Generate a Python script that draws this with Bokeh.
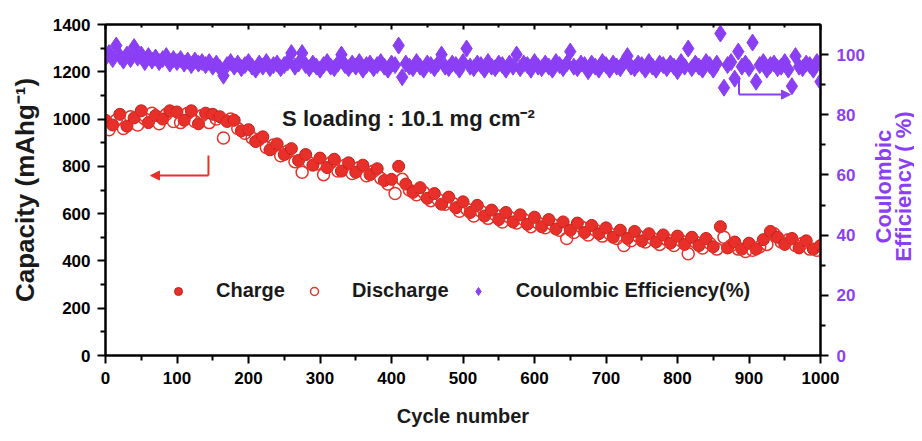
import math
from bokeh.plotting import figure
from bokeh.layouts import row
from bokeh.models import (Range1d, LinearAxis, Label, Arrow, NormalHead, Legend,
                          LegendItem, FixedTicker)
from bokeh.core.properties import value
from bokeh.embed import file_html
from bokeh.resources import INLINE

# ---------------- data ----------------
charge_cycles = list(range(0, 1001, 10))
charge = [
    995, 975, 1020, 970, 1005, 1035, 985, 1015, 1000, 1035,
    1030, 995, 1035, 980, 1025, 1020, 1010, 990, 995, 950,
    955, 905, 925, 870, 895, 850, 875, 825, 850, 805,
    835, 795, 830, 780, 815, 775, 805, 765, 790, 740,
    745, 800, 725, 690, 710, 665, 685, 640, 670, 625,
    650, 605, 635, 590, 615, 575, 605, 565, 595, 555,
    585, 545, 575, 535, 565, 530, 560, 520, 550, 515,
    540, 500, 530, 495, 525, 485, 515, 480, 510, 475,
    505, 470, 500, 465, 495, 460, 545, 455, 480, 450,
    475, 450, 490, 525, 500, 470, 495, 455, 485, 450,
    465,
]

discharge_cycles = list(range(5, 1000, 10))
discharge = [
    955, 995, 960, 1010, 975, 1000, 1025, 980, 1020, 990,
    985, 1025, 990, 1015, 985, 1000, 920, 1000, 960, 940,
    920, 915, 880, 890, 845, 865, 820, 775, 815, 810,
    765, 815, 780, 805, 770, 795, 760, 780, 750, 725,
    685, 745, 700, 680, 690, 655, 660, 640, 645, 610,
    620, 590, 610, 580, 595, 565, 585, 560, 575, 545,
    560, 540, 555, 530, 495, 520, 545, 510, 530, 505,
    515, 495, 465, 485, 505, 480, 495, 470, 490, 465,
    485, 430, 480, 455, 475, 450, 500, 465, 450, 440,
    445, 460, 470, 515, 480, 490, 465, 475, 450, 445,
]

ce_cycles = list(range(0, 1001, 5))
ce = [
    99.0, 100.5, 98.5, 103.0, 99.5, 98.0, 100.0, 98.5, 102.5, 99.0,
    100.0, 97.5, 99.5, 98.0, 99.0, 97.5, 98.5, 99.5, 97.0, 98.5,
    97.5, 98.5, 97.0, 98.0, 96.5, 98.0, 97.0, 97.5, 96.5, 97.5,
    96.0, 97.0, 95.5, 93.0, 96.5, 97.5, 96.0, 97.0, 95.5, 96.5,
    97.5, 96.0, 95.0, 97.0, 96.0, 97.5, 95.5, 96.5, 97.0, 95.5,
    96.5, 97.5, 100.5, 96.0, 97.0, 100.5, 96.5, 95.5, 97.0, 96.0,
    95.0, 96.5, 97.5, 96.0, 95.5, 97.0, 100.0, 96.5, 95.5, 97.0,
    96.0, 97.5, 95.0, 96.5, 97.0, 95.5, 96.5, 97.5, 96.0, 95.0,
    97.0, 96.5, 103.0, 92.5, 97.0, 96.0, 95.5, 97.5, 96.0, 95.0,
    97.0, 96.5, 95.5, 97.0, 100.0, 96.0, 95.5, 97.0, 96.5, 95.0,
    97.5, 102.0, 96.0, 95.5, 97.0, 96.5, 95.0, 97.5, 96.0, 95.5,
    97.0, 96.5, 95.0, 97.0, 96.0, 100.0, 95.5, 97.0, 96.5, 95.0,
    97.5, 96.0, 95.5, 97.0, 96.0, 95.0, 97.5, 96.5, 95.5, 97.0,
    101.0, 96.0, 95.5, 97.0, 96.5, 94.5, 97.0, 96.0, 95.0, 97.5,
    96.5, 95.0, 97.0, 96.0, 95.5, 97.5, 99.5, 96.0, 95.5, 97.0,
    96.5, 95.0, 97.5, 96.0, 95.0, 97.0, 96.5, 95.5, 97.0, 96.0,
    94.5, 97.5, 96.0, 102.0, 95.5, 97.0, 96.0, 95.0, 97.5, 96.5,
    95.0, 97.0, 107.0, 89.0, 96.5, 97.5, 92.0, 101.0, 96.0, 97.0,
    95.5, 104.0, 91.0, 96.5, 97.5, 95.0, 96.5, 97.0, 95.5, 96.0,
    97.5, 95.0, 89.5, 99.5, 96.0, 95.5, 97.0, 96.5, 95.0, 97.5,
    91.0,
]

left_ticks = [0, 200, 400, 600, 800, 1000, 1200, 1400]
left_minor = [100, 300, 500, 700, 900, 1100, 1300]
right_ticks = [0, 20, 40, 60, 80, 100]
right_minor = [10, 30, 50, 70, 90]
x_ticks = [0, 100, 200, 300, 400, 500, 600, 700, 800, 900, 1000]
x_minor = [50, 150, 250, 350, 450, 550, 650, 750, 850, 950]

# arrow annotations (data coordinates)
red_arrow_x = [144, 144, 63]
red_arrow_y = [846, 761, 761]
ce_arrow_x = [886, 886, 958]
ce_arrow_y = [92.7, 86.7, 86.7]

# right-hand axis title, two lines (reads bottom to top)
right_title_lines = ["Coulombic", "Efficiency ( %)"]

RED = "#E8302A"
RED_EDGE = "#C21F19"
PURPLE = "#8B3FF5"
FONT = "Liberation Sans"
TXT = "#1a1a1a"

W_MAIN, W_SIDE, H = 867, 47, 433

p = figure(width=W_MAIN, height=H, output_backend="svg", toolbar_location=None,
           x_range=Range1d(0, 1000), y_range=Range1d(0, 1400),
           min_border_left=105, min_border_right=44, min_border_top=24,
           min_border_bottom=78)
p.extra_y_ranges = {"ce": Range1d(0, 110)}
p.xgrid.visible = False
p.ygrid.visible = False
p.outline_line_color = "black"
p.outline_line_width = 2
p.background_fill_color = "white"
p.border_fill_color = "white"


def style(ax, color="black", size="17px"):
    ax.axis_line_width = 2
    ax.axis_line_color = "black"
    ax.major_tick_line_width = 2
    ax.minor_tick_line_width = 2
    ax.major_tick_line_color = "black"
    ax.minor_tick_line_color = "black"
    ax.major_tick_out = 8
    ax.major_tick_in = 0
    ax.minor_tick_out = 5
    ax.minor_tick_in = 0
    ax.major_label_text_font = FONT
    ax.major_label_text_font_style = "bold"
    ax.major_label_text_font_size = size
    ax.major_label_text_color = color
    ax.axis_label_text_font_style = "bold"
    ax.axis_label_text_font = FONT


xa = p.xaxis[0]
xa.ticker = FixedTicker(ticks=x_ticks, minor_ticks=x_minor)
style(xa)
xa.major_label_standoff = 8
xa.axis_label = "Cycle number"
xa.axis_label_text_font_size = "20px"
xa.axis_label_text_color = TXT
xa.axis_label_standoff = 18

ya = p.yaxis[0]
ya.ticker = FixedTicker(ticks=left_ticks, minor_ticks=left_minor)
style(ya)
ya.major_label_standoff = 7
ya.axis_label = "Capacity (mAhg⁻¹)"
ya.axis_label_text_font_size = "26px"
ya.axis_label_text_color = TXT
ya.axis_label_standoff = 10

ra = LinearAxis(y_range_name="ce",
                ticker=FixedTicker(ticks=right_ticks, minor_ticks=right_minor))
style(ra, color=PURPLE)
ra.major_label_standoff = 8
p.add_layout(ra, "right")

ta = LinearAxis(ticker=FixedTicker(ticks=x_ticks, minor_ticks=x_minor))
ta.axis_line_width = 2
ta.major_tick_in = 5
ta.major_tick_out = 0
ta.minor_tick_in = 3
ta.minor_tick_out = 0
ta.major_tick_line_width = 2
ta.minor_tick_line_width = 2
ta.major_label_overrides = {t: "" for t in x_ticks}
ta.major_label_standoff = 0
p.add_layout(ta, "above")

r_ce = p.scatter(ce_cycles, ce, marker="diamond", size=17, fill_color=PURPLE,
                 line_color=PURPLE, y_range_name="ce")
r_ch = p.scatter(charge_cycles, charge, marker="circle", size=12,
                 fill_color=RED, line_color=RED_EDGE, line_width=1)
r_dis = p.scatter(discharge_cycles, discharge, marker="circle", size=12,
                  fill_color=None, line_color=RED, line_width=1.5)

# arrows
p.line(red_arrow_x[:2], red_arrow_y[:2], line_color=RED, line_width=2)
p.add_layout(Arrow(end=NormalHead(size=9, line_color=RED, fill_color=RED),
                   x_start=red_arrow_x[1], y_start=red_arrow_y[1],
                   x_end=red_arrow_x[2], y_end=red_arrow_y[2],
                   line_color=RED, line_width=2))
p.line(ce_arrow_x[:2], ce_arrow_y[:2], line_color=PURPLE, line_width=2,
       y_range_name="ce")
p.add_layout(Arrow(end=NormalHead(size=9, line_color=PURPLE, fill_color=PURPLE),
                   x_start=ce_arrow_x[1], y_start=ce_arrow_y[1],
                   x_end=ce_arrow_x[2], y_end=ce_arrow_y[2],
                   line_color=PURPLE, line_width=2, y_range_name="ce"))

p.add_layout(Label(x=247, y=1003, text="S loading : 10.1 mg cm⁻²",
                   text_font=FONT, text_font_style="bold", text_font_size="22px",
                   text_baseline="middle", text_color=TXT))

legend = Legend(items=[LegendItem(label="Charge", renderers=[r_ch]),
                       LegendItem(label="Discharge", renderers=[r_dis]),
                       LegendItem(label="Coulombic Efficiency(%)", renderers=[r_ce])],
                orientation="horizontal", location=(63, 53),
                background_fill_alpha=0, border_line_color=None,
                padding=0, margin=0, spacing=19, label_standoff=28,
                glyph_width=20, glyph_height=20,
                label_text_font=FONT, label_text_font_style="bold",
                label_text_font_size="20px", label_text_color=TXT)
p.add_layout(legend)

# side strip holding the right-hand axis title (pixel coordinates, no axes)
side = figure(width=W_SIDE, height=H, output_backend="svg", toolbar_location=None,
              x_range=Range1d(0, W_SIDE), y_range=Range1d(0, H),
              x_axis_type=None, y_axis_type=None,
              min_border=0, min_border_left=0, min_border_right=0,
              min_border_top=0, min_border_bottom=0)
side.xgrid.visible = False
side.ygrid.visible = False
side.outline_line_color = None
side.background_fill_color = "white"
side.border_fill_color = "white"
side.text(x=[16, 36], y=[H - 212, H - 212], text=right_title_lines,
          angle=math.pi / 2, text_align="center", text_baseline="middle",
          text_font=value(FONT), text_font_style="bold", text_font_size="22px",
          text_color=PURPLE)

layout = row(p, side, spacing=0)
open("out.html", "w").write(file_html(layout, INLINE))
